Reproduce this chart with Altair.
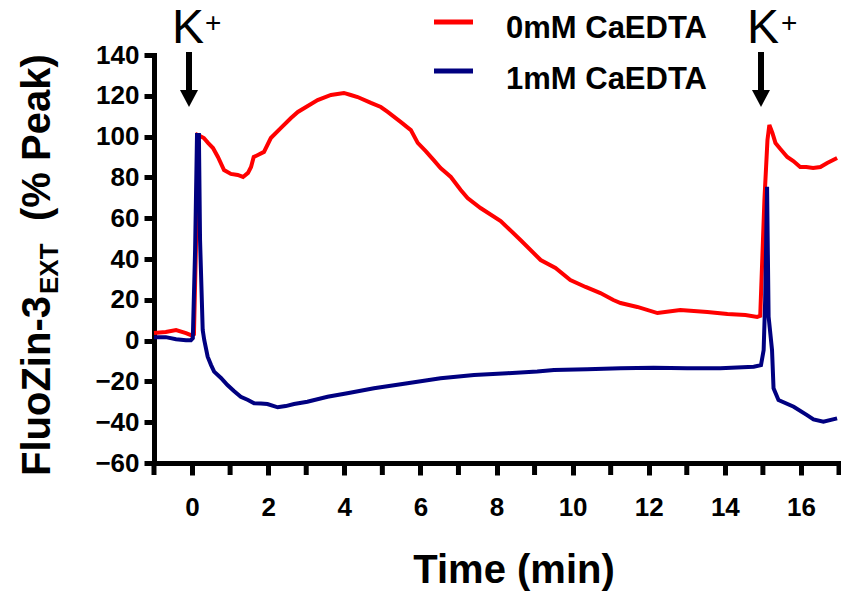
import altair as alt
import pandas as pd

# ---------------- data ----------------
red_t = [-1.00, -0.69, -0.42, -0.16, -0.03, 0.05, 0.10, 0.15, 0.21, 0.31, 0.42, 0.55, 0.68, 0.84,
         1.02, 1.20, 1.34, 1.47, 1.55, 1.62, 1.73, 1.89, 2.07, 2.33, 2.60, 2.78, 3.04, 3.30, 3.65,
         3.99, 4.17, 4.35, 4.70, 4.96, 5.14, 5.48, 5.75, 5.93, 6.14, 6.35, 6.53, 6.80, 7.06, 7.24,
         7.58, 8.11, 8.63, 9.16, 9.55, 9.94, 10.34, 10.73, 11.07, 11.26, 11.70, 12.23, 12.83,
         13.54, 14.07, 14.54, 14.85, 14.93, 15.04, 15.12, 15.17, 15.25, 15.33, 15.46, 15.64,
         15.80, 15.98, 16.14, 16.32, 16.51, 16.69, 16.95]
red_v = [3.7, 4.2, 5.2, 3.7, 2.7, 3.2, 44.4, 100.8, 100.3, 99.3, 96.9, 94.4, 90.0, 83.6,
         81.7, 81.2, 80.2, 82.2, 85.1, 90.0, 91.0, 92.5, 99.3, 104.2, 109.1, 112.1, 115.0, 117.9, 120.4,
         121.4, 120.4, 119.4, 116.5, 114.5, 112.1, 107.2, 103.2, 96.9, 92.9, 88.5, 84.6, 80.2, 73.8, 69.9,
         65.0, 58.6, 49.3, 39.5, 35.6, 29.7, 26.3, 23.3, 19.9, 18.4, 16.5, 13.5, 15.0,
         14.0, 13.0, 12.5, 11.6, 12.1, 68.9, 98.3, 105.7, 101.8, 96.9, 93.9, 90.0,
         88.0, 85.1, 85.1, 84.6, 85.1, 87.1, 89.5]

blue_t = [-1.00, -0.69, -0.42, -0.16, -0.03, 0.02, 0.08, 0.13, 0.18, 0.21, 0.28, 0.32, 0.41, 0.50,
          0.58, 0.76, 0.93, 1.10, 1.28, 1.47, 1.63, 1.81, 1.98, 2.25, 2.46, 2.68, 3.03, 3.56, 4.08,
          4.78, 5.66, 6.53, 7.41, 8.28, 9.07, 9.51, 10.38, 11.26, 12.13, 13.01, 13.88, 14.76, 14.95,
          15.02, 15.06, 15.11, 15.15, 15.24, 15.28, 15.41, 15.81, 16.16, 16.33, 16.59, 16.95]
blue_v = [1.7, 1.7, 0.7, 0.2, 0.2, 1.2, 44.4, 100.8, 100.8, 49.3, 5.2, 0.3, -7.9, -12.0,
          -15.2, -18.3, -21.8, -24.7, -27.5, -29.1, -30.7, -30.8, -31.1, -32.7, -32.1, -31.1, -30.0, -27.5, -25.8,
          -23.4, -20.9, -18.5, -16.9, -16.0, -15.2, -14.4, -14.1, -13.6, -13.3, -13.6, -13.6, -12.8, -12.0,
          -4.6, 19.9, 75.4, 11.7, -4.6, -23.4, -29.1, -32.4, -36.5, -38.6, -39.8, -38.1]

series_names = ["0mM CaEDTA", "1mM CaEDTA"]
series_colors = ["#ff0000", "#000080"]
x_labels = list(range(0, 17, 2))
x_minor = list(range(-1, 18, 2))
y_ticks = list(range(-60, 141, 20))
x_title = "Time (min)"
y_title_main = "FluoZin-3"
y_title_sub = "EXT"
y_title_rest = "(% Peak)"
stim_label = "K"
stim_sup = "+"

# ---------------- layout ----------------
W, H = 685, 408
L, T = 154, 55
FONT = "Liberation Sans"
TICK = 12

red_df = pd.DataFrame({"t": red_t, "v": red_v})
blue_df = pd.DataFrame({"t": blue_t, "v": blue_v})
minor_df = pd.DataFrame({"t": x_minor})

xs = alt.Scale(domain=[-1, 17], nice=False, zero=False)
ys = alt.Scale(domain=[-60, 140], nice=False, zero=False)

x_axis = alt.Axis(values=x_labels, title=None, format="d",
                  labelOverlap=False, labelFlush=False, labelFontSize=26, labelFontWeight="bold",
                  labelFont=FONT, labelColor="black", labelPadding=19, tickSize=TICK, tickWidth=5,
                  tickColor="black", domainColor="black", domainWidth=5, grid=False,
                  domainCap="square")
y_axis = alt.Axis(values=y_ticks, title=None, labelOverlap=False, labelFlush=False,
                  labelFontSize=26, labelFontWeight="bold", labelFont=FONT, labelColor="black",
                  labelPadding=5, tickSize=10, tickWidth=5, tickColor="black",
                  domainColor="black", domainWidth=5, grid=False, domainCap="square")

red_line = alt.Chart(red_df).mark_line(color=series_colors[0], strokeWidth=4).encode(
    x=alt.X("t:Q", scale=xs, axis=x_axis),
    y=alt.Y("v:Q", scale=ys, axis=y_axis),
    order="t:Q",
)
blue_line = alt.Chart(blue_df).mark_line(color=series_colors[1], strokeWidth=4).encode(
    x=alt.X("t:Q", scale=xs, axis=x_axis),
    y=alt.Y("v:Q", scale=ys, axis=y_axis),
    order="t:Q",
)
minor_ticks = alt.Chart(minor_df).mark_rule(color="black", strokeWidth=5).encode(
    x=alt.X("t:Q", scale=xs, axis=x_axis),
    y=alt.value(H), y2=alt.value(H + TICK),
)

one = pd.DataFrame({"k": [0]})


def txt(text, px, py, size, weight="bold", align="left", angle=0):
    kw = dict(text=text, font=FONT, fontSize=size, fontWeight=weight, align=align,
              baseline="alphabetic", color="black")
    if angle:
        kw["angle"] = angle
    return alt.Chart(one).mark_text(**kw).encode(x=alt.value(px - L), y=alt.value(py - T))


def hrule(x1, x2, py, color, w):
    return alt.Chart(one).mark_rule(color=color, strokeWidth=w).encode(
        x=alt.value(x1 - L), x2=alt.value(x2 - L), y=alt.value(py - T))


def arrow(px):
    shaft = alt.Chart(one).mark_rule(color="black", strokeWidth=6).encode(
        x=alt.value(px - L), y=alt.value(52 - T), y2=alt.value(92 - T))
    head = alt.Chart(one).mark_point(shape="M-1,-0.94L1,-0.94L0,0.94Z", filled=True, size=324,
                                     color="black", opacity=1, strokeWidth=0).encode(
        x=alt.value(px - L), y=alt.value(98.5 - T))
    return [shaft, head]


annotations = [
    # legend
    hrule(434, 473, 22, series_colors[0], 5),
    hrule(434, 473, 71, series_colors[1], 5),
    txt(series_names[0], 506, 38, 31),
    txt(series_names[1], 506, 89, 31),
    # K+ markers
    txt(stim_label, 172, 43, 48, weight="normal"),
    txt(stim_sup, 205, 32, 28, weight="normal"),
    txt(stim_label, 747, 43, 48, weight="normal"),
    txt(stim_sup, 781, 32, 28, weight="normal"),
    *arrow(189),
    *arrow(761),
    # axis titles
    txt(x_title, 514, 583, 40, align="center"),
    txt(y_title_main, 50, 476, 40, angle=270),
    txt(y_title_sub, 58, 294, 26, angle=270),
    txt(y_title_rest, 50, 221, 40, angle=270),
]

chart = alt.layer(red_line, blue_line, minor_ticks, *annotations).properties(
    width=W, height=H,
    padding={"left": L, "top": T, "right": 841 - L - W, "bottom": 598 - T - H},
    autosize=alt.AutoSizeParams(type="none"),
    background="white",
).configure_view(stroke=None)

chart.save("out.html", embed_options={"renderer": "svg", "actions": False})
